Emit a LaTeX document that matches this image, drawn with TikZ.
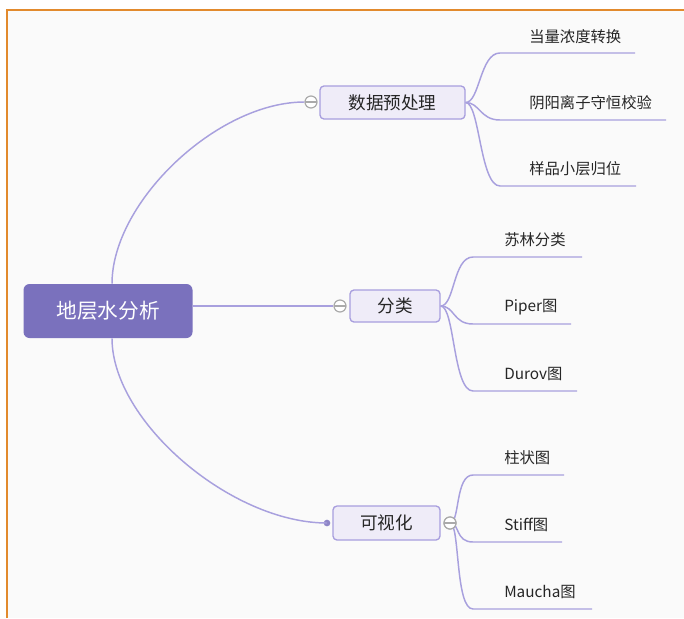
\documentclass[tikz,border=0pt]{standalone}
\usepackage{fontspec}
\setmainfont{Noto Sans CJK SC}
\definecolor{linec}{RGB}{168,160,222}
\definecolor{rootc}{RGB}{122,113,189}
\definecolor{boxf}{RGB}{239,236,248}
\definecolor{boxd}{RGB}{168,158,222}
\definecolor{bgc}{RGB}{250,250,250}
\definecolor{orng}{RGB}{226,138,45}
\definecolor{collc}{RGB}{170,170,170}
\begin{document}
\begin{tikzpicture}[x=0.75pt,y=-0.75pt,
  conn/.style={draw=linec,line width=1.1pt},
  rootbox/.style={fill=rootc,rounded corners=4.5pt,text=white,font=\fontsize{15.5}{18}\selectfont,minimum height=40.5pt,inner sep=0pt},
  midbox/.style={fill=boxf,draw=boxd,line width=1pt,rounded corners=3pt,font=\fontsize{13.2}{16}\selectfont,text=black!85,inner sep=0pt},
  leaf/.style={anchor=west,font=\fontsize{11.5}{14}\selectfont,text=black!85,inner sep=0pt},
  collapse/.style={circle,draw=collc,fill=white,line width=0.9pt,minimum size=9pt,inner sep=0pt,
    path picture={\draw[collc,line width=0.9pt] (path picture bounding box.west) -- (path picture bounding box.east);}},
  dotn/.style={circle,fill=rootc!85,minimum size=5pt,inner sep=0pt}]
\useasboundingbox (0,0) rectangle (684,618);
\fill[white] (0,0) rectangle (684,618);
\fill[bgc] (7,10) rectangle (684,618);
\draw[orng,line width=1.6pt] (7,618) -- (7,10) -- (684,10);

% main nodes
\node[rootbox,minimum width=126.75pt] (root) at (108,311) {地层水分析};
\node[midbox,minimum width=108.75pt,minimum height=24.75pt] (m1) at (392.5,102.5) {数据预处理};
\node[midbox,minimum width=67.5pt,minimum height=24pt] (m2) at (395,306) {分类};
\node[midbox,minimum width=80.25pt,minimum height=25.5pt] (m3) at (386.5,523) {可视化};

% connectors from root
\node[collapse] (k1) at (311,102) {};
\node[collapse] (k2) at (340,306) {};
\node[dotn] (d3) at (327,523) {};
\draw[conn] ([xshift=3pt]root.north) .. controls +(0,-82) and +(-87,0) .. (k1.west);
\draw[conn] (root.east |- k2.west) -- (k2.west);
\draw[conn] ([xshift=3pt]root.south) .. controls +(0,83) and +(-96,0) .. (d3.center);

% group 1
\coordinate (o1) at (m1.east);
\coordinate (a1) at (500,53);  \coordinate (b1) at (635,53);
\coordinate (a2) at (500,120); \coordinate (b2) at (666,120);
\coordinate (a3) at (500,186); \coordinate (b3) at (636,186);
\draw[conn] (o1) .. controls +(14,0) and +(-20,0) .. (a1) -- (b1);
\draw[conn] (o1) .. controls +(14,0) and +(-20,0) .. (a2) -- (b2);
\draw[conn] (o1) .. controls +(14,0) and +(-20,0) .. (a3) -- (b3);
\node[leaf] (t1) at (529,37) {当量浓度转换};
\node[leaf] (t2) at (529,103) {阴阳离子守恒校验};
\node[leaf] (t3) at (529,169) {样品小层归位};

% group 2
\coordinate (o2) at (m2.east);
\coordinate (a4) at (473,257); \coordinate (b4) at (582,257);
\coordinate (a5) at (473,324); \coordinate (b5) at (571,324);
\coordinate (a6) at (473,391); \coordinate (b6) at (577,391);
\draw[conn] (o2) .. controls +(14,0) and +(-20,0) .. (a4) -- (b4);
\draw[conn] (o2) .. controls +(14,0) and +(-20,0) .. (a5) -- (b5);
\draw[conn] (o2) .. controls +(14,0) and +(-20,0) .. (a6) -- (b6);
\node[leaf] (t4) at (504,240) {苏林分类};
\node[leaf] (t5) at (504,307) {Piper图};
\node[leaf] (t6) at (504,374) {Durov图};

% group 3
\node[collapse] (k3) at (450,523) {};
\coordinate (a7) at (473,475); \coordinate (b7) at (564,475);
\coordinate (a8) at (473,542); \coordinate (b8) at (562,542);
\coordinate (a9) at (473,609); \coordinate (b9) at (592,609);
\draw[conn] (k3.center) .. controls +(10,0) and +(-18,0) .. (a7) -- (b7);
\draw[conn] (k3.center) .. controls +(10,0) and +(-18,0) .. (a8) -- (b8);
\draw[conn] (k3.center) .. controls +(10,0) and +(-18,0) .. (a9) -- (b9);
\node[collapse] at (k3) {};
\node[leaf] (t7) at (504,458) {柱状图};
\node[leaf] (t8) at (504,525) {Stiff图};
\node[leaf] (t9) at (504,592) {Maucha图};
\end{tikzpicture}
\end{document}
